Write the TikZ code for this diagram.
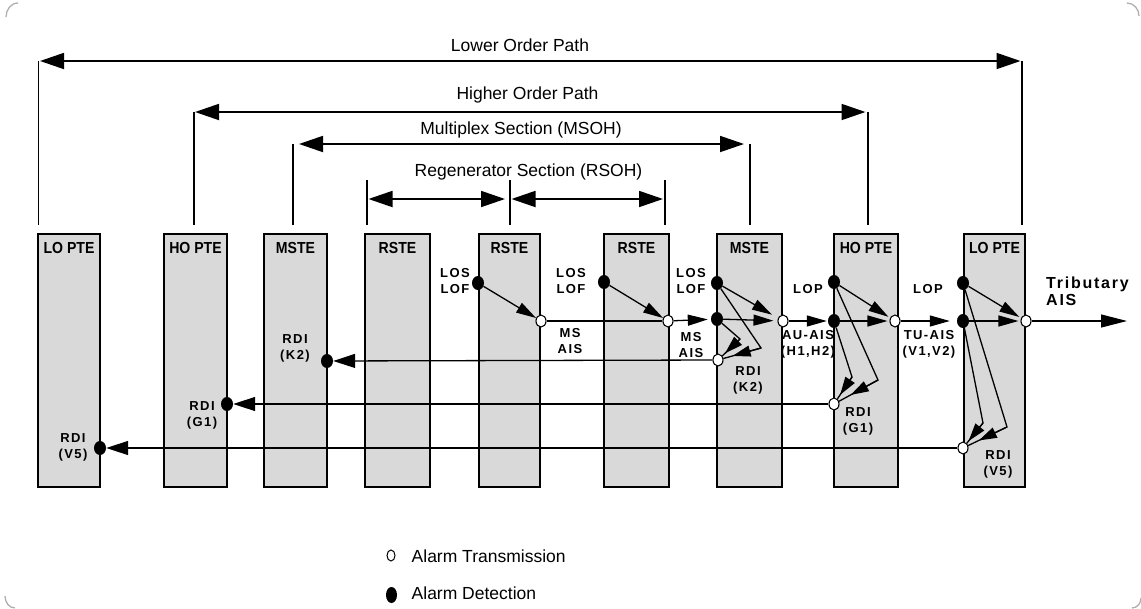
\documentclass[tikz,border=0pt]{standalone}
\usepackage{fontspec}
\setmainfont{Liberation Sans}
\newfontfamily\boxfam{Liberation Sans}[FakeStretch=0.88]
\newfontfamily\lblfam{Liberation Sans}[LetterSpace=11]
\usetikzlibrary{arrows.meta,calc,shapes.geometric}
\definecolor{boxgray}{RGB}{217,217,217}
\definecolor{cornergray}{RGB}{175,175,175}
\tikzset{
  box/.style={draw=black,line width=1.3pt,fill=boxgray,minimum height=253pt,inner sep=0pt},
  blbl/.style={font=\boxfam\bfseries\fontsize{16}{18}\selectfont,inner sep=0pt,anchor=base},
  lbl/.style={font=\lblfam\bfseries\fontsize{13}{16}\selectfont,align=center,inner sep=0pt},
  tlbl/.style={font=\lblfam\bfseries\fontsize{16}{17}\selectfont,align=left,inner sep=0pt},
  toplbl/.style={font=\fontsize{17.5}{20}\selectfont,inner sep=0pt,anchor=base},
  legtxt/.style={font=\fontsize{17.5}{20}\selectfont,inner sep=0pt,anchor=base west},
  det/.style={ellipse,fill=black,inner sep=0pt,minimum width=12pt,minimum height=14pt},
  trx/.style={ellipse,draw=black,fill=white,line width=1.1pt,inner sep=0pt,minimum width=10pt,minimum height=12pt},
  sig/.style={line width=1.3pt},
  sa/.style={sig,-{Triangle[length=20pt,width=11pt]}},
  fa/.style={sig,-{Triangle[length=18pt,width=11pt]}},
  ra/.style={sig,-{Triangle[length=22pt,width=14pt]}},
  brk/.style={line width=1.5pt},
  brarr/.style={line width=1.8pt,{Triangle[length=24pt,width=16pt]}-{Triangle[length=24pt,width=16pt]}},
  corner/.style={draw=cornergray,line width=1.3pt}
}
\begin{document}
\begin{tikzpicture}[x=1pt,y=-1pt]
\useasboundingbox (0,0) rectangle (1141,608);
% faint frame corners
\coordinate (k1a) at (6,17); \coordinate (k1b) at (18,3);
\coordinate (k2a) at (1127,3); \coordinate (k2b) at (1139,16);
\coordinate (k3a) at (5,596); \coordinate (k3b) at (15,608);
\coordinate (k4a) at (1141,598); \coordinate (k4b) at (1132,608);
\draw[corner] (k1a) to[out=90,in=180] (k1b);
\draw[corner] (k2a) to[out=0,in=90] (k2b);
\draw[corner] (k3a) to[out=-90,in=180] (k3b);
\draw[corner] (k4a) to[out=-90,in=0] (k4b);

% top brackets
\node[toplbl] (tLP) at (520,51.5) {Lower Order Path};
\node[toplbl] (tHP) at (527.5,99) {Higher Order Path};
\node[toplbl] (tMS) at (521,134.5) {Multiplex Section (MSOH)};
\node[toplbl] (tRS) at (528.5,176) {Regenerator Section (RSOH)};

\coordinate (LPl) at (38.5,61);   \coordinate (LPlb) at (38.5,225);
\coordinate (LPr) at (1022,61);   \coordinate (LPrb) at (1022,225);
\coordinate (HPl) at (194,112);   \coordinate (HPlb) at (194,225);
\coordinate (HPr) at (868,112);   \coordinate (HPrb) at (868,225);
\coordinate (MPl) at (293,144);   \coordinate (MPlb) at (293,225);
\coordinate (MPr) at (750,144);   \coordinate (MPrb) at (750,225);
\coordinate (R1t) at (367,180);   \coordinate (R1b) at (367,225);
\coordinate (R2t) at (510,180);   \coordinate (R2b) at (510,225);
\coordinate (R3t) at (665,180);   \coordinate (R3b) at (665,225);
\coordinate (R1a) at (367,199);   \coordinate (R2a) at (510,199);
\coordinate (R3a) at (665,199);
\foreach \a/\b in {LPl/LPlb,LPr/LPrb,HPl/HPlb,HPr/HPrb,MPl/MPlb,MPr/MPrb,R1t/R1b,R2t/R2b,R3t/R3b}
  \draw[brk] (\a) -- (\b);
\draw[brarr,shorten <=1.5pt,shorten >=1.5pt] (LPl) -- (LPr);
\draw[brarr,shorten <=1pt,shorten >=2.5pt] (HPl) -- (HPr);
\draw[brarr,shorten <=6pt,shorten >=6pt] (MPl) -- (MPr);
\draw[brarr,shorten <=1.5pt,shorten >=5pt] (R1a) -- (R2a);
\draw[brarr,shorten <=1.5pt,shorten >=2pt] (R2a) -- (R3a);

% equipment boxes
\node[box,minimum width=62pt] (b1) at (69,360.5) {};
\node[box,minimum width=63pt] (b2) at (195.5,360.5) {};
\node[box,minimum width=63pt] (b3) at (295.5,360.5) {};
\node[box,minimum width=65pt] (b4) at (397.5,360.5) {};
\node[box,minimum width=61pt] (b5) at (509.5,360.5) {};
\node[box,minimum width=65pt] (b6) at (636.5,360.5) {};
\node[box,minimum width=65pt] (b7) at (749.5,360.5) {};
\node[box,minimum width=64pt] (b8) at (866,360.5) {};
\node[box,minimum width=61pt] (b9) at (994.5,360.5) {};
\node[blbl] (l1) at (69,253) {LO PTE};
\node[blbl] (l2) at (195.5,253) {HO PTE};
\node[blbl] (l3) at (295.5,253) {MSTE};
\node[blbl] (l4) at (397.5,253) {RSTE};
\node[blbl] (l5) at (509.5,253) {RSTE};
\node[blbl] (l6) at (636.5,253) {RSTE};
\node[blbl] (l7) at (749.5,253) {MSTE};
\node[blbl] (l8) at (866,253) {HO PTE};
\node[blbl] (l9) at (994.5,253) {LO PTE};

% detection points
\node[det] (dV5) at (100,448) {};
\node[det] (dG1) at (227,404) {};
\node[det] (dK2) at (327,361) {};
\node[det] (dR5) at (478,283) {};
\node[det] (dR6) at (604,282) {};
\node[det] (dM1) at (717,283) {};
\node[det] (dM2) at (717,319) {};
\node[det] (dH1) at (834,282) {};
\node[det] (dH2) at (834,321) {};
\node[det] (dL1) at (963,283) {};
\node[det] (dL2) at (963,321) {};
% transmission points
\node[trx] (oR5) at (541,321) {};
\node[trx] (oR6) at (668,321) {};
\node[trx] (oM) at (783,321) {};
\node[trx] (oMb) at (718,360) {};
\node[trx] (oH) at (895,321) {};
\node[trx] (oHb) at (834,404) {};
\node[trx] (oL) at (1026,321) {};
\node[trx] (oLb) at (963,448) {};

% corners of the fold-back paths
\coordinate (cM1) at (761,348);
\coordinate (cM2) at (740,339);
\coordinate (cH1) at (878,380);
\coordinate (cH2) at (852,377);
\coordinate (cL1) at (1007,427);
\coordinate (cL2) at (983,423);
\coordinate (trEnd) at (1127,321);
\coordinate (aM1) at ($(cM1)!0.66!(oMb)$);
\coordinate (aM2) at ($(cM2)!0.68!(oMb)$);
\coordinate (aH1) at ($(cH1)!0.62!(oHb)$);
\coordinate (aH2) at ($(cH2)!0.66!(oHb)$);
\coordinate (aL1) at ($(cL1)!0.64!(oLb)$);
\coordinate (aL2) at ($(cL2)!0.72!(oLb)$);

% forward path
\draw[sa] (dR5) -- (oR5);
\draw[sa] (dR6) -- (oR6);
\draw[sig] (oR5) -- (oR6);
\draw[sa,shorten >=3pt] (oR6) -- (dM2);
\draw[sa,shorten >=7pt] (dM1) -- (oM);
\draw[sa,shorten >=4pt] (dM2) -- (oM);
\draw[sa,shorten >=1pt] (oM) -- (dH2);
\draw[sa,shorten >=2pt] (dH1) -- (oH);
\draw[sa,shorten >=2pt] (dH2) -- (oH);
\draw[sa,shorten >=7pt] (oH) -- (dL2);
\draw[sa,shorten >=2pt] (dL1) -- (oL);
\draw[sa,shorten >=2pt] (dL2) -- (oL);
\draw[sig,-{Triangle[length=26pt,width=13pt]}] (oL) -- (trEnd);

% fold-back paths
\draw[sig] (dM1) -- (cM1) -- (oMb);
\draw[fa] (cM1) -- (aM1);
\draw[sig] (dM2) -- (cM2) -- (oMb);
\draw[fa] (cM2) -- (aM2);
\draw[sig] (dH1) -- (cH1) -- (oHb);
\draw[fa] (cH1) -- (aH1);
\draw[sig] (dH2) -- (cH2) -- (oHb);
\draw[fa] (cH2) -- (aH2);
\draw[sig] (dL1) -- (cL1) -- (oLb);
\draw[fa] (cL1) -- (aL1);
\draw[sig] (dL2) -- (cL2) -- (oLb);
\draw[fa] (cL2) -- (aL2);

% RDI return paths
\draw[ra] (oMb) -- (dK2);
\draw[ra] (oHb) -- (dG1);
\draw[ra] (oLb) -- (dV5);

% labels
\node[lbl] (tLOS5) at (455,281) {LOS\\LOF};
\node[lbl] (tLOS6) at (571,281) {LOS\\LOF};
\node[lbl] (tLOS7) at (691,281) {LOS\\LOF};
\node[lbl] (tMS1) at (570,341) {MS\\AIS};
\node[lbl] (tMS2) at (691,345) {MS\\AIS};
\node[lbl] (tLOP1) at (808,289) {LOP};
\node[lbl] (tLOP2) at (928,289) {LOP};
\node[lbl] (tAU) at (808,344) {AU-AIS\\(H1,H2)};
\node[lbl] (tTU) at (929,344) {TU-AIS\\(V1,V2)};
\node[lbl] (tK2a) at (295,348) {RDI\\(K2)};
\node[lbl] (tG1a) at (202,415) {RDI\\(G1)};
\node[lbl] (tV5a) at (73,447) {RDI\\(V5)};
\node[lbl] (tK2b) at (748,380) {RDI\\(K2)};
\node[lbl] (tG1b) at (858,421.5) {RDI\\(G1)};
\node[lbl] (tV5b) at (998,464.5) {RDI\\(V5)};
\node[tlbl,anchor=west] (tTrib) at (1046,291.5) {Tributary\\AIS};

% legend
\node[ellipse,draw=black,line width=1pt,inner sep=0pt,minimum width=8pt,minimum height=11pt] (lgT) at (391,555.5) {};
\node[ellipse,fill=black,inner sep=0pt,minimum width=11pt,minimum height=16pt] (lgD) at (391.5,595) {};
\node[legtxt] (lgTt) at (411.5,562) {Alarm Transmission};
\node[legtxt] (lgDt) at (411.5,599) {Alarm Detection};
\end{tikzpicture}
\end{document}
